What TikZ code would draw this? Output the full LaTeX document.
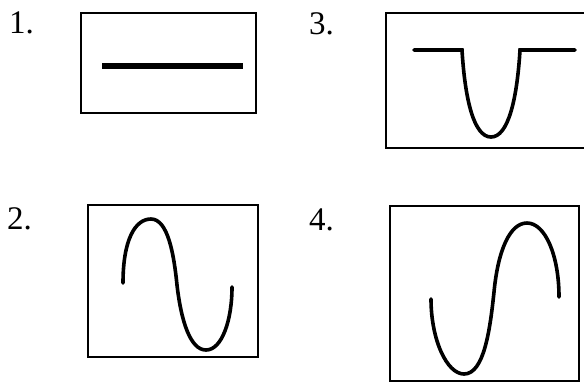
\documentclass[tikz,border=0pt]{standalone}
\usepackage{fontspec}
\setmainfont{Liberation Serif}
\begin{document}
\begin{tikzpicture}[x=1bp,y=-1bp,
  frame/.style={draw=black,line width=2.6bp},
  wave/.style={draw=black,line width=3.6bp,line cap=round},
  lbl/.style={anchor=base west,inner sep=0pt,font=\fontsize{33bp}{33bp}\selectfont}]
\useasboundingbox (0,0) rectangle (584,383);
\clip (0,0) rectangle (584,383);
% labels
\node[lbl] (l1) at (9,33) {1.};
\node[lbl] (l3) at (309,34) {3.};
\node[lbl] (l2) at (7,229) {2.};
\node[lbl] (l4) at (309,230) {4.};
% box 1
\draw[frame] (81,13) rectangle (256,113);
\draw[line width=6.5bp] (102,66) -- (243,66);
% box 3
\draw[frame] (386,13) rectangle (600,148);
\draw[wave] (414,50) -- (462,50) .. controls (465,100) and (474,137) .. (491,137)
  .. controls (508,137) and (517,100) .. (520,50) -- (575,50);
% box 2
\draw[frame] (88,205) rectangle (258,357);
\draw[wave] (123,283) .. controls (123,240) and (135,219) .. (151,219)
  .. controls (168,219) and (174,255) .. (177,285)
  .. controls (181,320) and (190,350) .. (206,350)
  .. controls (222,350) and (232,320) .. (232,287);
% box 4
\draw[frame] (390,206) rectangle (579,381);
\draw[wave] (431,299) .. controls (431,340) and (447,374) .. (464,374)
  .. controls (484,374) and (490,330) .. (494,292)
  .. controls (498,250) and (510,223) .. (527,223)
  .. controls (545,223) and (559,255) .. (559,297);
\end{tikzpicture}
\end{document}
